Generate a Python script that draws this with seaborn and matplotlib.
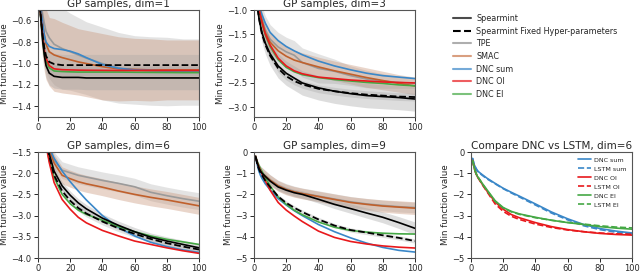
import numpy as np
import pandas as pd
import matplotlib
matplotlib.use('Agg')
import matplotlib.pyplot as plt
from matplotlib.lines import Line2D
import seaborn as sns

# iteration grid shared by every panel
X = [1, 2, 3, 4, 5, 7, 10, 15, 20, 25, 30, 40, 50, 60, 70, 80, 90, 100]

# ---- GP samples, dim=1
d1_spear = [-0.45, -0.62, -0.8, -0.93, -1.02, -1.09, -1.12, -1.13, -1.13, -1.13, -1.135, -1.135, -1.135, -1.135, -1.135, -1.135, -1.135, -1.135]
d1_fixed = [-0.45, -0.6, -0.75, -0.86, -0.93, -0.985, -1.005, -1.015, -1.015, -1.015, -1.015, -1.015, -1.015, -1.015, -1.015, -1.015, -1.015, -1.015]
d1_tpe = [-0.35, -0.45, -0.55, -0.63, -0.7, -0.76, -0.82, -0.86, -0.89, -0.92, -0.95, -1.0, -1.04, -1.06, -1.07, -1.075, -1.08, -1.08]
d1_smac = [-0.4, -0.52, -0.64, -0.74, -0.82, -0.89, -0.92, -0.945, -0.965, -0.985, -1.0, -1.03, -1.05, -1.055, -1.06, -1.06, -1.06, -1.06]
d1_sum = [-0.4, -0.52, -0.64, -0.74, -0.8, -0.84, -0.86, -0.87, -0.885, -0.91, -0.945, -1.01, -1.045, -1.06, -1.065, -1.07, -1.07, -1.07]
d1_oi = [-0.45, -0.6, -0.76, -0.88, -0.95, -1.02, -1.05, -1.058, -1.06, -1.062, -1.063, -1.064, -1.065, -1.065, -1.065, -1.065, -1.065, -1.065]
d1_ei = [-0.45, -0.62, -0.79, -0.91, -0.98, -1.04, -1.07, -1.075, -1.078, -1.08, -1.08, -1.08, -1.08, -1.082, -1.083, -1.084, -1.085, -1.085]
d1_tpe_sd = [0.3, 0.35, 0.38, 0.38, 0.38, 0.38, 0.38, 0.38, 0.36, 0.35, 0.34, 0.34, 0.33, 0.32, 0.32, 0.32, 0.31, 0.31]
d1_smac_sd = [0.25, 0.3, 0.33, 0.34, 0.33, 0.32, 0.34, 0.33, 0.32, 0.31, 0.31, 0.31, 0.3, 0.29, 0.29, 0.28, 0.28, 0.28]
d1_spear_sd = [0.05, 0.08, 0.1, 0.11, 0.11, 0.11, 0.11, 0.11, 0.11, 0.11, 0.11, 0.11, 0.11, 0.11, 0.11, 0.11, 0.11, 0.11]
d1_fixed_sd = [0.05, 0.07, 0.09, 0.1, 0.1, 0.1, 0.1, 0.1, 0.1, 0.1, 0.1, 0.1, 0.1, 0.1, 0.1, 0.1, 0.1, 0.1]

# ---- GP samples, dim=3
d3_spear = [-0.6, -0.9, -1.15, -1.32, -1.47, -1.68, -1.9, -2.15, -2.3, -2.4, -2.5, -2.6, -2.67, -2.72, -2.76, -2.78, -2.8, -2.83]
d3_fixed = [-0.6, -0.9, -1.15, -1.34, -1.5, -1.71, -1.94, -2.2, -2.36, -2.46, -2.53, -2.62, -2.67, -2.71, -2.74, -2.76, -2.78, -2.79]
d3_tpe = [-0.5, -0.72, -0.92, -1.06, -1.18, -1.4, -1.6, -1.76, -1.86, -1.93, -2.08, -2.2, -2.26, -2.35, -2.42, -2.46, -2.49, -2.51]
d3_smac = [-0.5, -0.72, -0.93, -1.08, -1.22, -1.46, -1.66, -1.84, -1.95, -2.03, -2.08, -2.17, -2.25, -2.32, -2.39, -2.45, -2.51, -2.56]
d3_sum = [-0.45, -0.65, -0.85, -1.0, -1.1, -1.27, -1.46, -1.63, -1.75, -1.84, -1.92, -2.05, -2.15, -2.23, -2.3, -2.35, -2.38, -2.41]
d3_oi = [-0.5, -0.74, -0.95, -1.12, -1.26, -1.49, -1.72, -1.99, -2.15, -2.25, -2.31, -2.38, -2.41, -2.44, -2.46, -2.48, -2.49, -2.5]
d3_ei = [-0.5, -0.74, -0.97, -1.14, -1.28, -1.51, -1.75, -2.02, -2.18, -2.27, -2.33, -2.39, -2.43, -2.46, -2.49, -2.51, -2.54, -2.56]
d3_tpe_sd = [0.1, 0.15, 0.2, 0.22, 0.25, 0.28, 0.3, 0.3, 0.3, 0.3, 0.3, 0.3, 0.25, 0.2, 0.18, 0.15, 0.12, 0.1]
d3_smac_sd = [0.1, 0.12, 0.15, 0.17, 0.18, 0.2, 0.2, 0.2, 0.2, 0.2, 0.2, 0.2, 0.2, 0.2, 0.2, 0.19, 0.18, 0.18]
d3_spear_sd = [0.05, 0.1, 0.15, 0.18, 0.2, 0.22, 0.24, 0.25, 0.25, 0.25, 0.25, 0.25, 0.25, 0.25, 0.25, 0.25, 0.25, 0.25]
d3_fixed_sd = [0.03, 0.04, 0.05, 0.06, 0.06, 0.07, 0.07, 0.08, 0.08, 0.08, 0.08, 0.08, 0.08, 0.08, 0.08, 0.08, 0.08, 0.08]

# ---- GP samples, dim=6
d6_spear = [-0.3, -0.55, -0.8, -1.02, -1.22, -1.55, -1.95, -2.3, -2.52, -2.7, -2.84, -3.06, -3.23, -3.38, -3.51, -3.6, -3.68, -3.76]
d6_fixed = [-0.3, -0.55, -0.8, -1.03, -1.24, -1.6, -2.05, -2.42, -2.65, -2.82, -2.95, -3.14, -3.3, -3.43, -3.55, -3.65, -3.73, -3.8]
d6_tpe = [-0.3, -0.55, -0.78, -0.98, -1.15, -1.42, -1.7, -1.93, -1.99, -2.05, -2.09, -2.17, -2.24, -2.32, -2.45, -2.53, -2.6, -2.66]
d6_smac = [-0.3, -0.55, -0.78, -0.98, -1.15, -1.45, -1.76, -2.05, -2.13, -2.2, -2.25, -2.33, -2.42, -2.5, -2.57, -2.63, -2.7, -2.77]
d6_sum = [-0.3, -0.5, -0.72, -0.92, -1.1, -1.4, -1.65, -1.95, -2.2, -2.42, -2.63, -3.0, -3.28, -3.48, -3.63, -3.73, -3.81, -3.87]
d6_oi = [-0.3, -0.6, -0.88, -1.12, -1.34, -1.75, -2.22, -2.62, -2.85, -3.04, -3.17, -3.35, -3.48, -3.6, -3.68, -3.76, -3.83, -3.89]
d6_ei = [-0.3, -0.6, -0.87, -1.1, -1.32, -1.7, -2.1, -2.5, -2.72, -2.87, -2.97, -3.11, -3.26, -3.38, -3.48, -3.56, -3.62, -3.68]
d6_tpe_sd = [0.1, 0.12, 0.15, 0.17, 0.18, 0.2, 0.2, 0.2, 0.2, 0.2, 0.2, 0.2, 0.2, 0.2, 0.2, 0.2, 0.2, 0.2]
d6_smac_sd = [0.1, 0.12, 0.15, 0.17, 0.18, 0.2, 0.2, 0.2, 0.2, 0.2, 0.2, 0.2, 0.2, 0.2, 0.2, 0.2, 0.2, 0.2]
d6_spear_sd = [0.05, 0.06, 0.07, 0.08, 0.09, 0.1, 0.1, 0.1, 0.1, 0.1, 0.1, 0.1, 0.1, 0.1, 0.1, 0.1, 0.1, 0.1]
d6_fixed_sd = [0.04, 0.05, 0.06, 0.07, 0.08, 0.08, 0.08, 0.08, 0.08, 0.08, 0.08, 0.08, 0.08, 0.08, 0.08, 0.08, 0.08, 0.08]

# ---- GP samples, dim=9
d9_spear = [-0.2, -0.5, -0.75, -0.9, -1.0, -1.15, -1.37, -1.65, -1.8, -1.92, -2.0, -2.23, -2.47, -2.67, -2.88, -3.08, -3.33, -3.6]
d9_fixed = [-0.25, -0.55, -0.8, -0.97, -1.1, -1.35, -1.65, -2.1, -2.4, -2.63, -2.83, -3.18, -3.47, -3.68, -3.8, -3.93, -4.05, -4.2]
d9_tpe = [-0.2, -0.5, -0.74, -0.88, -0.98, -1.12, -1.32, -1.58, -1.74, -1.86, -1.95, -2.08, -2.22, -2.35, -2.45, -2.52, -2.58, -2.62]
d9_smac = [-0.2, -0.5, -0.75, -0.9, -1.0, -1.13, -1.33, -1.6, -1.77, -1.88, -1.96, -2.1, -2.24, -2.38, -2.47, -2.55, -2.6, -2.65]
d9_sum = [-0.25, -0.6, -0.9, -1.1, -1.25, -1.5, -1.78, -2.2, -2.5, -2.77, -3.0, -3.42, -3.76, -4.05, -4.3, -4.5, -4.64, -4.72]
d9_oi = [-0.25, -0.5, -0.7, -0.87, -1.03, -1.36, -1.8, -2.38, -2.74, -3.02, -3.28, -3.73, -4.03, -4.22, -4.34, -4.43, -4.49, -4.53]
d9_ei = [-0.25, -0.45, -0.62, -0.78, -0.92, -1.22, -1.6, -2.12, -2.47, -2.75, -2.96, -3.3, -3.55, -3.7, -3.78, -3.83, -3.86, -3.87]
d9_tpe_sd = [0.1, 0.15, 0.2, 0.22, 0.25, 0.25, 0.25, 0.25, 0.25, 0.25, 0.25, 0.25, 0.25, 0.25, 0.25, 0.25, 0.25, 0.25]
d9_smac_sd = [0.1, 0.15, 0.2, 0.22, 0.25, 0.25, 0.25, 0.25, 0.25, 0.25, 0.25, 0.25, 0.26, 0.27, 0.28, 0.29, 0.3, 0.3]
d9_spear_sd = [0.05, 0.08, 0.1, 0.12, 0.14, 0.15, 0.15, 0.15, 0.15, 0.16, 0.17, 0.18, 0.2, 0.22, 0.24, 0.26, 0.28, 0.3]
d9_fixed_sd = [0.04, 0.05, 0.06, 0.07, 0.08, 0.09, 0.1, 0.1, 0.1, 0.1, 0.1, 0.1, 0.1, 0.1, 0.1, 0.1, 0.1, 0.1]

# ---- Compare DNC vs LSTM, dim=6
cmp_dnc_sum = [-0.3, -0.6, -0.75, -0.88, -0.95, -1.07, -1.24, -1.48, -1.71, -1.9, -2.08, -2.45, -2.83, -3.15, -3.42, -3.61, -3.73, -3.82]
cmp_lstm_sum = [-0.3, -0.62, -0.78, -0.9, -0.98, -1.1, -1.27, -1.5, -1.73, -1.93, -2.12, -2.5, -2.88, -3.2, -3.48, -3.66, -3.78, -3.86]
cmp_dnc_oi = [-0.4, -0.75, -1.0, -1.17, -1.28, -1.52, -1.85, -2.36, -2.7, -2.95, -3.1, -3.33, -3.52, -3.66, -3.76, -3.84, -3.89, -3.92]
cmp_lstm_oi = [-0.4, -0.75, -1.0, -1.17, -1.29, -1.54, -1.88, -2.45, -2.8, -3.03, -3.18, -3.4, -3.56, -3.68, -3.76, -3.82, -3.86, -3.88]
cmp_dnc_ei = [-0.4, -0.75, -0.98, -1.15, -1.25, -1.48, -1.79, -2.3, -2.62, -2.8, -2.92, -3.08, -3.22, -3.33, -3.42, -3.52, -3.59, -3.64]
cmp_lstm_ei = [-0.4, -0.75, -0.98, -1.15, -1.26, -1.5, -1.82, -2.33, -2.64, -2.82, -2.94, -3.1, -3.22, -3.32, -3.4, -3.48, -3.54, -3.58]

C_SPEAR = 'black'
C_TPE = '#9a9a9a'
C_SMAC = '#c0602c'
C_SUM = '#3a87c8'
C_OI = '#e8191c'
C_EI = '#45a845'

sns.set_style('ticks')
plt.rcParams['font.family'] = ['DejaVu Sans']
plt.rcParams['axes.linewidth'] = 0.8

fig = plt.figure(figsize=(6.4, 2.72), dpi=100)
W, H = 640, 272


def make_ax(left, top, right, bottom):
    return fig.add_axes([left / W, 1 - bottom / H, (right - left) / W, (bottom - top) / H])


def band(ax, mean, sd, color, alpha):
    m = np.array(mean)
    s = np.array(sd)
    ax.fill_between(X, m - s, m + s, color=color, alpha=alpha, lw=0)


def line(ax, vals, color, ls='-', lw=1.2):
    sns.lineplot(x=X, y=vals, ax=ax, color=color, linestyle=ls, lw=lw)


def gp_panel(ax, d, title, ylim):
    spear, fixed, tpe, smac, s_sum, s_oi, s_ei, tpe_sd, smac_sd, spear_sd, fixed_sd = d
    band(ax, tpe, tpe_sd, '#c8c8c8', 0.5)
    band(ax, smac, smac_sd, '#c9977c', 0.4)
    band(ax, spear, spear_sd, '#a0a0a0', 0.35)
    band(ax, fixed, fixed_sd, '#a0a0a0', 0.3)
    line(ax, tpe, C_TPE)
    line(ax, smac, C_SMAC)
    line(ax, s_sum, C_SUM)
    line(ax, s_ei, C_EI)
    line(ax, s_oi, C_OI)
    line(ax, spear, C_SPEAR)
    line(ax, fixed, C_SPEAR, ls='--', lw=1.3)
    ax.set_xlim(0, 100)
    ax.set_ylim(*ylim)
    ax.set_title(title, fontsize=7.5, pad=2)


def style(ax):
    ax.set_xticks([0, 20, 40, 60, 80, 100])
    ax.tick_params(labelsize=6, length=3, width=0.7, pad=1.5)
    ax.set_ylabel('Min function value', fontsize=6.3, labelpad=1.5)
    for s in ax.spines.values():
        s.set_color('#555555')


ax1 = make_ax(38, 10, 199, 117)
gp_panel(ax1, [d1_spear, d1_fixed, d1_tpe, d1_smac, d1_sum, d1_oi, d1_ei,
               d1_tpe_sd, d1_smac_sd, d1_spear_sd, d1_fixed_sd],
         'GP samples, dim=1', (-1.5, -0.5))
ax2 = make_ax(254, 10, 415, 117)
gp_panel(ax2, [d3_spear, d3_fixed, d3_tpe, d3_smac, d3_sum, d3_oi, d3_ei,
               d3_tpe_sd, d3_smac_sd, d3_spear_sd, d3_fixed_sd],
         'GP samples, dim=3', (-3.2, -1.0))
ax4 = make_ax(38, 152, 199, 258)
gp_panel(ax4, [d6_spear, d6_fixed, d6_tpe, d6_smac, d6_sum, d6_oi, d6_ei,
               d6_tpe_sd, d6_smac_sd, d6_spear_sd, d6_fixed_sd],
         'GP samples, dim=6', (-4.0, -1.5))
ax5 = make_ax(254, 152, 415, 258)
gp_panel(ax5, [d9_spear, d9_fixed, d9_tpe, d9_smac, d9_sum, d9_oi, d9_ei,
               d9_tpe_sd, d9_smac_sd, d9_spear_sd, d9_fixed_sd],
         'GP samples, dim=9', (-5, 0))

ax6 = make_ax(471, 152, 632, 258)
line(ax6, cmp_dnc_sum, C_SUM)
line(ax6, cmp_lstm_sum, C_SUM, ls='--')
line(ax6, cmp_dnc_oi, C_OI)
line(ax6, cmp_lstm_oi, C_OI, ls='--')
line(ax6, cmp_dnc_ei, C_EI)
line(ax6, cmp_lstm_ei, C_EI, ls='--')
ax6.set_xlim(0, 100)
ax6.set_ylim(-5, 0)
ax6.set_title('Compare DNC vs LSTM, dim=6', fontsize=7.5, pad=2)
cmp_handles = [Line2D([], [], color=C_SUM, lw=1.2), Line2D([], [], color=C_SUM, lw=1.2, ls='--'),
               Line2D([], [], color=C_OI, lw=1.2), Line2D([], [], color=C_OI, lw=1.2, ls='--'),
               Line2D([], [], color=C_EI, lw=1.2), Line2D([], [], color=C_EI, lw=1.2, ls='--')]
ax6.legend(cmp_handles, ['DNC sum', 'LSTM sum', 'DNC OI', 'LSTM OI', 'DNC EI', 'LSTM EI'],
           loc='upper right', fontsize=4.6, frameon=False, handlelength=2.0,
           handletextpad=0.6, labelspacing=0.55, borderaxespad=0.4)

for a in [ax1, ax2, ax4, ax5, ax6]:
    style(a)

leg_labels = ['Spearmint', 'Spearmint Fixed Hyper-parameters', 'TPE', 'SMAC',
              'DNC sum', 'DNC OI', 'DNC EI']
leg_handles = [Line2D([], [], color=C_SPEAR, lw=1.5, alpha=0.7),
               Line2D([], [], color=C_SPEAR, lw=1.5, ls='--'),
               Line2D([], [], color=C_TPE, lw=1.5, alpha=0.8),
               Line2D([], [], color=C_SMAC, lw=1.5, alpha=0.6),
               Line2D([], [], color=C_SUM, lw=1.5, alpha=0.7),
               Line2D([], [], color=C_OI, lw=1.5, alpha=0.7),
               Line2D([], [], color=C_EI, lw=1.5, alpha=0.7)]
fig.legend(leg_handles, leg_labels, loc='upper left', bbox_to_anchor=(453 / W, 1 - 14 / H),
           fontsize=5.8, frameon=False, handlelength=2.2, handletextpad=0.7,
           labelspacing=0.45, borderaxespad=0, borderpad=0)

fig.savefig('out.png', dpi=100)
